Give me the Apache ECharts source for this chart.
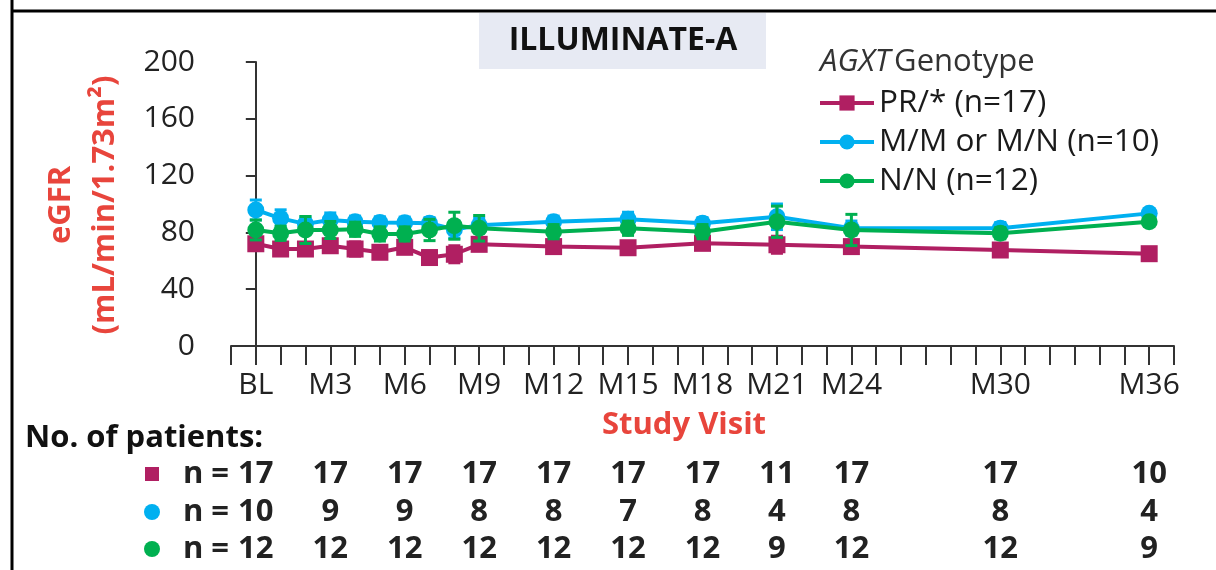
<!DOCTYPE html>
<html>
<head>
<meta charset="utf-8">
<script src="https://cdn.jsdelivr.net/npm/echarts@6/dist/echarts.min.js"></script>
<style>
  html, body { margin: 0; padding: 0; background: #fff; }
  #chart { width: 1216px; height: 570px; }
</style>
</head>
<body>
<div id="chart"></div>
<script>
// Study visit months (BL = month 0)
const months = [0, 1, 2, 3, 4, 5, 6, 7, 8, 9, 12, 15, 18, 21, 24, 30, 36];

// Mean eGFR and standard error per genotype group
const prMean = [72, 68.3, 68.3, 70.6, 68.3, 66, 69.5, 62.3, 64.6, 71.6, 70, 69.2, 72.3, 71.3, 70, 67.6, 65];
const prErr  = [4, 3, 3, 3, 5, 3, 4, 3, 6, 3, 3, 3, 3, 6, 3, 3, 2];
const mmMean = [95.8, 89.9, 86, 88.7, 87.5, 87, 86.8, 86.4, 82, 85, 87.5, 89.2, 86.4, 91, 83, 83, 93.4];
const mmErr  = [7, 6, 5, 5, 4, 4, 4, 4, 6, 5, 4, 5, 4, 9, 5, 4, 3];
const nnMean = [81.7, 79.4, 81.7, 81.7, 82.2, 78.9, 78.9, 81.7, 84.7, 82.9, 80.5, 82.9, 80.5, 87.5, 81.7, 79.4, 87.5];
const nnErr  = [7, 5, 9.5, 6, 5, 5, 5, 7.5, 9.5, 9, 5, 5, 5, 11, 11, 4, 3];

// Axis tick labels
const labelMonths = [0, 3, 6, 9, 12, 15, 18, 21, 24, 30, 36];
const labelTexts  = ['BL', 'M3', 'M6', 'M9', 'M12', 'M15', 'M18', 'M21', 'M24', 'M30', 'M36'];
const yTicks = [0, 40, 80, 120, 160, 200];

// Number of patients at each labelled visit
const prCounts = [17, 17, 17, 17, 17, 17, 17, 11, 17, 17, 10];
const mmCounts = [10, 9, 9, 8, 8, 7, 8, 4, 8, 8, 4];
const nnCounts = [12, 12, 12, 12, 12, 12, 12, 9, 12, 12, 9];

const seriesNames = ['PR/* (n=17)', 'M/M or M/N (n=10)', 'N/N (n=12)'];
const COLORS = ['#B01F62', '#00B0F0', '#00B050'];
const RED = '#E8453C';
const FONT = '"Open Sans", "Noto Sans", sans-serif';

const chart = echarts.init(document.getElementById('chart'), null, { renderer: 'canvas' });

function lineSeries(name, means, color, symbol, z) {
  return {
    type: 'line',
    name: name,
    z: z,
    data: months.map((m, i) => [m, means[i]]),
    symbol: symbol,
    symbolSize: 17,
    showSymbol: true,
    lineStyle: { width: 4, color: color },
    itemStyle: { color: color },
    emphasis: { disabled: true }
  };
}

function errorSeries(name, means, errs, color, z) {
  return {
    type: 'custom',
    name: name + ' SE',
    z: z,
    silent: true,
    data: months.map((m, i) => [m, means[i] - errs[i], means[i] + errs[i]]),
    encode: { x: 0, y: [1, 2] },
    renderItem: function (params, api) {
      const lo = api.coord([api.value(0), api.value(1)]);
      const hi = api.coord([api.value(0), api.value(2)]);
      const hw = 6;
      const style = { stroke: color, lineWidth: 3 };
      return {
        type: 'group',
        children: [
          { type: 'line', shape: { x1: lo[0], y1: lo[1], x2: hi[0], y2: hi[1] }, style: style },
          { type: 'line', shape: { x1: hi[0] - hw, y1: hi[1], x2: hi[0] + hw, y2: hi[1] }, style: style },
          { type: 'line', shape: { x1: lo[0] - hw, y1: lo[1], x2: lo[0] + hw, y2: lo[1] }, style: style }
        ]
      };
    }
  };
}

const axisColor = '#333';

chart.setOption({
  animation: false,
  backgroundColor: '#fff',
  grid: { left: 231, right: 42, top: 62, bottom: 224, containLabel: false },
  legend: {
    data: seriesNames,
    orient: 'vertical',
    left: 818,
    top: 87,
    padding: 0,
    itemWidth: 54,
    itemHeight: 19,
    itemGap: 7,
    selectedMode: false,
    lineStyle: { width: 4 },
    textStyle: { fontFamily: FONT, fontSize: 31.5, color: '#1a1a1a', lineHeight: 32 }
  },
  xAxis: {
    type: 'value',
    min: -1,
    max: 37,
    interval: 1,
    axisLine: { show: true, lineStyle: { color: axisColor, width: 2 } },
    axisTick: { show: true, inside: false, length: 19, lineStyle: { color: axisColor, width: 2 } },
    splitLine: { show: false },
    axisLabel: {
      margin: 24,
      fontFamily: FONT,
      fontSize: 30,
      lineHeight: 30,
      color: '#222',
      showMinLabel: true,
      showMaxLabel: true,
      formatter: function (v) {
        const idx = labelMonths.indexOf(Math.round(v));
        return idx >= 0 && Math.abs(v - Math.round(v)) < 1e-6 ? labelTexts[idx] : '';
      }
    }
  },
  yAxis: {
    type: 'value',
    min: yTicks[0],
    max: yTicks[yTicks.length - 1],
    interval: 40,
    axisLine: { show: true, lineStyle: { color: axisColor, width: 2 } },
    axisTick: { show: true, inside: false, length: 10, lineStyle: { color: axisColor, width: 2 } },
    splitLine: { show: false },
    axisLabel: { margin: 36, fontFamily: FONT, fontSize: 30, color: '#222' }
  },
  series: [
    errorSeries(seriesNames[0], prMean, prErr, COLORS[0], 3),
    lineSeries(seriesNames[0], prMean, COLORS[0], 'rect', 4),
    errorSeries(seriesNames[1], mmMean, mmErr, COLORS[1], 5),
    lineSeries(seriesNames[1], mmMean, COLORS[1], 'circle', 6),
    errorSeries(seriesNames[2], nnMean, nnErr, COLORS[2], 7),
    lineSeries(seriesNames[2], nnMean, COLORS[2], 'circle', 8)
  ]
});

// Decorations, axis names and the patient-count table
const graphics = [];

// slide frame
graphics.push({ type: 'line', z: 100, shape: { x1: 12, y1: 0, x2: 12, y2: 570 }, style: { stroke: '#000', lineWidth: 3 } });
graphics.push({ type: 'line', z: 100, shape: { x1: 12, y1: 11, x2: 1216, y2: 11 }, style: { stroke: '#000', lineWidth: 3 } });

// title box
graphics.push({ type: 'rect', z: 1, shape: { x: 479, y: 13, width: 287, height: 56 }, style: { fill: '#E7EAF3' } });
graphics.push({
  type: 'text', z: 2, x: 623, y: 41,
  style: { text: 'ILLUMINATE-A', font: 'bold 32px ' + FONT, fill: '#111', align: 'center', verticalAlign: 'middle' }
});

// legend heading
graphics.push({
  type: 'text', z: 2, x: 820, y: 62,
  style: {
    text: '{i|AGXT}{r|Genotype}',
    verticalAlign: 'middle',
    rich: {
      i: { fontFamily: FONT, fontStyle: 'italic', fontSize: 31, fill: '#333', padding: [0, 4, 0, 0] },
      r: { fontFamily: FONT, fontSize: 31, fill: '#333' }
    }
  }
});

// y-axis name
graphics.push({
  type: 'text', z: 2, x: 61, y: 205, rotation: Math.PI / 2,
  style: { text: 'eGFR', font: 'bold 31px ' + FONT, fill: RED, align: 'center', verticalAlign: 'middle' }
});
graphics.push({
  type: 'text', z: 2, x: 105, y: 205, rotation: Math.PI / 2,
  style: { text: '(mL/min/1.73m\u00B2)', font: 'bold 31px ' + FONT, fill: RED, align: 'center', verticalAlign: 'middle' }
});

// x-axis name
graphics.push({
  type: 'text', z: 2, x: 684, y: 425,
  style: { text: 'Study Visit', font: 'bold 31px ' + FONT, fill: RED, align: 'center', verticalAlign: 'middle' }
});

// patient table
graphics.push({
  type: 'text', z: 2, x: 25, y: 438,
  style: { text: 'No. of patients:', font: 'bold 31px ' + FONT, fill: '#111', align: 'left', verticalAlign: 'middle' }
});

const rowY = [474, 512, 549];
const rowCounts = [prCounts, mmCounts, nnCounts];
graphics.push({ type: 'rect', z: 2, shape: { x: 145, y: rowY[0] - 7, width: 14, height: 14 }, style: { fill: COLORS[0] } });
graphics.push({ type: 'circle', z: 2, shape: { cx: 152, cy: rowY[1], r: 8 }, style: { fill: COLORS[1] } });
graphics.push({ type: 'circle', z: 2, shape: { cx: 152, cy: rowY[2], r: 8 }, style: { fill: COLORS[2] } });

const numFont = 'bold 31px ' + FONT;
rowCounts.forEach(function (counts, r) {
  counts.forEach(function (c, k) {
    const px = chart.convertToPixel({ gridIndex: 0 }, [labelMonths[k], 0])[0];
    graphics.push({
      type: 'text', z: 2, x: px, y: rowY[r],
      style: { text: String(c), font: numFont, fill: '#222', align: 'center', verticalAlign: 'middle' }
    });
    if (k === 0) {
      // "n = " prefix sits just left of the first count
      const half = String(c).length * 31 * 0.572 / 2;
      graphics.push({
        type: 'text', z: 2, x: px - half - 1, y: rowY[r],
        style: { text: 'n = ', font: numFont, fill: '#222', align: 'right', verticalAlign: 'middle' }
      });
    }
  });
});

chart.setOption({ graphic: graphics });
</script>
</body>
</html>
